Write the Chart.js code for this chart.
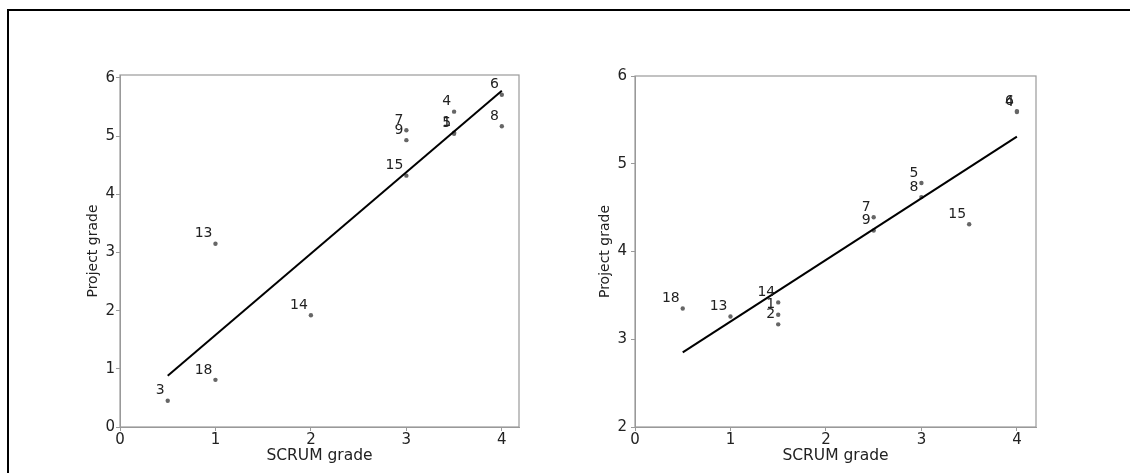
<!DOCTYPE html>
<html>
<head>
<meta charset="utf-8">
<script src="https://cdn.jsdelivr.net/npm/chart.js@4.4.1/dist/chart.umd.min.js"></script>
<style>
  html, body { margin: 0; padding: 0; background: #fff; }
  #wrap { position: relative; width: 1130px; height: 473px; overflow: hidden; background: #fff; }
  #frame { position: absolute; left: 7px; top: 9px; width: 1200px; height: 600px;
           border-top: 2px solid #000; border-left: 2px solid #000; }
  canvas { position: absolute; top: 0; }
  #c1 { left: 0; }
  #c2 { left: 565px; }
</style>
</head>
<body>
<div id="wrap">
  <div id="frame"></div>
  <canvas id="c1" width="565" height="473"></canvas>
  <canvas id="c2" width="565" height="473"></canvas>
</div>
<script>
// Team ids, SCRUM grade and project grade, first evaluation
const teamsA = ['3', '18', '13', '14', '15', '9', '7', '4', '1', '5', '6', '8'];
const scrumA = [0.5, 1, 1, 2, 3, 3, 3, 3.5, 3.5, 3.5, 4, 4];
const projectA = [0.45, 0.81, 3.15, 1.92, 4.32, 4.93, 5.10, 5.42, 5.06, 5.04, 5.71, 5.17];
const fitA_x = [0.5, 4];
const fitA_y = [0.88, 5.78];

// Second evaluation
const teamsB = ['18', '13', '14', '1', '2', '7', '9', '5', '8', '15', '6', '4'];
const scrumB = [0.5, 1, 1.5, 1.5, 1.5, 2.5, 2.5, 3, 3, 3.5, 4, 4];
const projectB = [3.35, 3.26, 3.42, 3.28, 3.17, 4.39, 4.24, 4.78, 4.62, 4.31, 5.60, 5.59];
const fitB_x = [0.5, 4];
const fitB_y = [2.85, 5.31];

// Axis ticks
const xTicks = [0, 1, 2, 3, 4];
const yTicksA = [0, 1, 2, 3, 4, 5, 6];
const yTicksB = [2, 3, 4, 5, 6];

const FONT = '"DejaVu Sans", sans-serif';

// Draws the axes box and the team id next to each point
const frameAndLabels = {
  id: 'frameAndLabels',
  afterDatasetsDraw(chart) {
    const { ctx, chartArea: a, scales: { x, y } } = chart;
    ctx.save();
    ctx.strokeStyle = '#9a9a9a';
    ctx.lineWidth = 1.2;
    ctx.strokeRect(a.left, a.top, a.width, a.height);
    ctx.font = '14px ' + FONT;
    ctx.fillStyle = '#222';
    ctx.textAlign = 'right';
    ctx.textBaseline = 'middle';
    chart.data.datasets[0].data.forEach(p => {
      ctx.fillText(p.id, x.getPixelForValue(p.x) - 3, y.getPixelForValue(p.y) - 10);
    });
    ctx.restore();
  }
};

function buildChart(id, teams, xs, ys, fx, fy, yTicks, yMin, yMax, xMax, pad, yWidth, tickPad) {
  const pts = teams.map((t, i) => ({ x: xs[i], y: ys[i], id: t }));
  const fit = fx.map((v, i) => ({ x: v, y: fy[i] }));
  const axisCommon = {
    grid: { display: true, drawOnChartArea: false, drawTicks: true, tickLength: 4, color: '#9a9a9a', lineWidth: 1 },
    border: { display: true, color: '#9a9a9a', width: 1 },
  };
  return new Chart(document.getElementById(id), {
    type: 'scatter',
    data: {
      datasets: [
        { data: pts, pointRadius: 2.2, pointHoverRadius: 2.2, backgroundColor: '#666', borderWidth: 0, order: 2 },
        { data: fit, showLine: true, borderColor: '#000', borderWidth: 2, pointRadius: 0, order: 1 }
      ]
    },
    options: {
      responsive: false,
      animation: false,
      devicePixelRatio: 1,
      layout: { padding: pad },
      plugins: { legend: { display: false }, tooltip: { enabled: false } },
      scales: {
        x: {
          ...axisCommon,
          type: 'linear', min: 0, max: xMax,
          afterBuildTicks: s => { s.ticks = xTicks.map(v => ({ value: v })); },
          afterFit: s => { s.height = 38; },
          ticks: { color: '#222', font: { family: FONT, size: 15 }, padding: 0, maxRotation: 0 },
          title: { display: true, text: 'SCRUM grade', color: '#222', font: { family: FONT, size: 15.5 }, padding: 0 }
        },
        y: {
          ...axisCommon,
          type: 'linear', min: yMin, max: yMax,
          afterBuildTicks: s => { s.ticks = yTicks.map(v => ({ value: v })); },
          afterFit: s => { s.width = yWidth; },
          ticks: { color: '#222', font: { family: FONT, size: 15 }, padding: tickPad },
          title: { display: true, text: 'Project grade', color: '#222', font: { family: FONT, size: 14 }, padding: 0 }
        }
      }
    },
    plugins: [frameAndLabels]
  });
}

buildChart('c1', teamsA, scrumA, projectA, fitA_x, fitA_y, yTicksA, 0, 6.05, 4.18,
  { left: 85, right: 46, top: 75, bottom: 8 }, 35, 1);
buildChart('c2', teamsB, scrumB, projectB, fitB_x, fitB_y, yTicksB, 2, 6, 4.2,
  { left: 32, right: 94, top: 76, bottom: 8 }, 38, 4);
</script>
</body>
</html>
